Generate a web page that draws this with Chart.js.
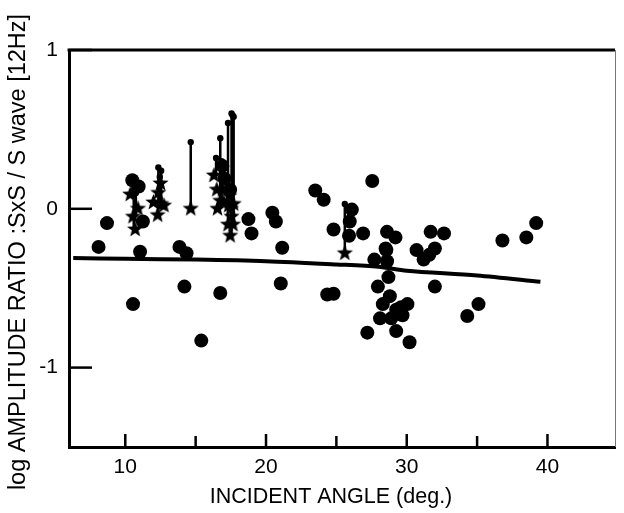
<!DOCTYPE html>
<html>
<head>
<meta charset="utf-8">
<script src="https://cdn.jsdelivr.net/npm/chart.js@4/dist/chart.umd.min.js"></script>
<style>
  html, body { margin: 0; padding: 0; background: #fff; }
  #wrap { width: 624px; height: 513px; }
</style>
</head>
<body>
<div id="wrap"><canvas id="c" width="624" height="513"></canvas></div>
<script>
// Axis ranges and tick values
const xRange = [6, 44.8];
const yRange = [-1.5, 1];
const xTickValues = [10, 20, 30, 40];
const xMinorTickValues = [15, 25, 35];
const yTickValues = [-1, 0, 1];

// Observed amplitude ratios (filled circles): [incident angle, log ratio]
const circlePoints = [
  [8.1, -0.24], [8.7, -0.09], [10.5, 0.18], [10.95, 0.14], [11.25, -0.08],
  [11.05, -0.27], [10.55, -0.6], [13.85, -0.24], [14.35, -0.28], [14.2, -0.49],
  [15.4, -0.83], [16.75, -0.53], [16.9, 0.27], [17.05, 0.19], [17.45, 0.12],
  [18.75, -0.065], [18.97, -0.155],
  [20.45, -0.025], [20.7, -0.08], [21.15, -0.245], [21.05, -0.47], [23.5, 0.115],
  [24.1, 0.057], [24.8, -0.13], [24.35, -0.54], [24.8, -0.535], [26.1, -0.005],
  [25.95, -0.08], [25.9, -0.17], [26.9, -0.155], [27.55, 0.175], [28.6, -0.145],
  [29.2, -0.18], [28.5, -0.25], [27.7, -0.32], [28.55, -0.26], [28.6, -0.33],
  [28.7, -0.43], [27.95, -0.49], [28.8, -0.55], [29.25, -0.635], [30.05, -0.6],
  [28.1, -0.69], [28.9, -0.69], [29.7, -0.67], [29.25, -0.77], [30.2, -0.84],
  [27.2, -0.78], [30.7, -0.26], [31.2, -0.32], [31.6, -0.29], [32.0, -0.25],
  [31.7, -0.145], [32.65, -0.155], [32.0, -0.49], [34.3, -0.675], [35.1, -0.6],
  [36.8, -0.2], [38.5, -0.18], [39.2, -0.09], [28.3, -0.6], [29.6, -0.62]
];

// Star-marked events
const starPoints = [
  [10.35, 0.09], [10.55, -0.05], [10.7, -0.13], [10.9, 0.0],
  [12.0, 0.04], [12.3, -0.04], [12.55, 0.03], [12.75, 0.02], [12.35, 0.1], [12.5, 0.16],
  [14.65, 0.0],
  [16.3, 0.21], [16.55, 0.0], [16.75, 0.05], [16.9, 0.12], [16.5, 0.12], [17.0, 0.04],
  [17.3, -0.1], [17.45, -0.17], [17.55, -0.05], [17.7, 0.03], [17.4, 0.08],
  [17.5, 0.0], [17.65, -0.1], [17.35, 0.02],
  [25.6, -0.28]
];

// Vertical ranges: [incident angle, lower value, upper value]
const rangeBars = [
  [10.6, -0.13, 0.12], [10.75, -0.05, 0.1],
  [12.35, -0.04, 0.26], [12.55, 0.03, 0.24], [12.45, 0.0, 0.2],
  [14.65, 0.0, 0.42],
  [16.75, 0.0, 0.445], [16.45, 0.21, 0.32], [16.85, 0.05, 0.3],
  [17.55, -0.17, 0.6], [17.3, -0.1, 0.54], [17.7, -0.05, 0.58], [17.62, -0.1, 0.59],
  [25.6, -0.28, 0.03]
];

// Regression curve
const fitX = [6.3, 10, 15, 20, 25, 28, 30, 35, 39.5];
const fitY = [-0.31, -0.315, -0.32, -0.33, -0.35, -0.365, -0.39, -0.42, -0.46];

const FONT = "'Liberation Sans', Arial, Helvetica, sans-serif";

// Filled five-pointed star used as a point style
function makeStar(outer, inner) {
  const size = Math.ceil(outer * 2 + 2);
  const c = document.createElement('canvas');
  c.width = size; c.height = size;
  const g = c.getContext('2d');
  g.translate(size / 2, size / 2);
  g.beginPath();
  for (let i = 0; i < 10; i++) {
    const r = i % 2 === 0 ? outer : inner;
    const a = -Math.PI / 2 + i * Math.PI / 5;
    const px = r * Math.cos(a), py = r * Math.sin(a);
    if (i === 0) g.moveTo(px, py); else g.lineTo(px, py);
  }
  g.closePath();
  g.fillStyle = '#000';
  g.fill();
  return c;
}
const starImg = makeStar(8.5, 3.6);

const toXY = arr => arr.map(p => ({ x: p[0], y: p[1] }));

const datasets = [];
rangeBars.forEach(b => {
  datasets.push({
    type: 'line',
    data: [{ x: b[0], y: b[1] }, { x: b[0], y: b[2] }],
    borderColor: '#000',
    backgroundColor: '#000',
    borderWidth: 2.5,
    pointRadius: [0, 3.2],
    pointBorderWidth: 0,
    showLine: true,
    fill: false
  });
});
datasets.push({
  type: 'scatter',
  data: toXY(starPoints),
  pointStyle: starImg,
  pointRadius: 8
});
datasets.push({
  type: 'scatter',
  data: toXY(circlePoints),
  pointStyle: 'circle',
  pointRadius: 7,
  backgroundColor: '#000',
  borderColor: '#000',
  borderWidth: 0
});
datasets.push({
  type: 'line',
  data: fitX.map((x, i) => ({ x, y: fitY[i] })),
  borderColor: '#000',
  borderWidth: 4,
  pointRadius: 0,
  tension: 0.3,
  fill: false
});

// Frame, inward tick marks and axis titles
const framePlugin = {
  id: 'frame',
  afterDraw(chart) {
    const { ctx, chartArea: a, scales } = chart;
    ctx.save();
    ctx.strokeStyle = '#000';
    ctx.lineCap = 'butt';
    ctx.lineWidth = 3;
    ctx.beginPath();
    ctx.moveTo(a.left - 1.5, a.top);
    ctx.lineTo(a.right, a.top);
    ctx.stroke();
    ctx.strokeStyle = '#777';
    ctx.lineWidth = 1;
    ctx.beginPath();
    ctx.moveTo(a.right + 0.5, a.top);
    ctx.lineTo(a.right + 0.5, a.bottom);
    ctx.stroke();
    ctx.strokeStyle = '#000';
    ctx.lineWidth = 2.5;
    yTickValues.forEach(v => {
      const y = scales.y.getPixelForValue(v);
      ctx.beginPath();
      ctx.moveTo(a.left, y);
      ctx.lineTo(a.left + 23, y);
      ctx.stroke();
    });
    xTickValues.forEach(v => {
      const x = scales.x.getPixelForValue(v);
      ctx.beginPath();
      ctx.moveTo(x, a.bottom);
      ctx.lineTo(x, a.bottom - 13);
      ctx.stroke();
    });
    xMinorTickValues.forEach(v => {
      const x = scales.x.getPixelForValue(v);
      ctx.beginPath();
      ctx.moveTo(x, a.bottom);
      ctx.lineTo(x, a.bottom - 11);
      ctx.stroke();
    });
    ctx.fillStyle = '#000';
    ctx.textAlign = 'center';
    ctx.textBaseline = 'middle';
    ctx.font = '21.5px ' + FONT;
    ctx.fillText('INCIDENT ANGLE (deg.)', 331, 497);
    ctx.translate(19, 252);
    ctx.rotate(-Math.PI / 2);
    ctx.font = '23.5px ' + FONT;
    ctx.fillText('log AMPLITUDE RATIO :SxS / S wave [12Hz]', 0, 0);
    ctx.restore();
  }
};

new Chart(document.getElementById('c'), {
  data: { datasets },
  options: {
    responsive: false,
    animation: false,
    events: [],
    layout: { padding: { top: 50, right: 1, bottom: 0, left: 0 } },
    plugins: { legend: { display: false }, tooltip: { enabled: false } },
    scales: {
      x: {
        type: 'linear',
        min: xRange[0],
        max: xRange[1],
        afterBuildTicks: s => { s.ticks = xTickValues.map(v => ({ value: v })); },
        afterFit: s => { s.height = 66; },
        ticks: { color: '#000', font: { size: 21, family: FONT }, padding: 8, maxRotation: 0 },
        grid: { display: false, drawTicks: false },
        border: { display: true, color: '#000', width: 3 }
      },
      y: {
        type: 'linear',
        min: yRange[0],
        max: yRange[1],
        afterBuildTicks: s => { s.ticks = yTickValues.map(v => ({ value: v })); },
        afterFit: s => { s.width = 69; },
        ticks: { color: '#000', font: { size: 21, family: FONT }, padding: 11 },
        grid: { display: false, drawTicks: false },
        border: { display: true, color: '#000', width: 3 }
      }
    }
  },
  plugins: [framePlugin]
});
</script>
</body>
</html>
